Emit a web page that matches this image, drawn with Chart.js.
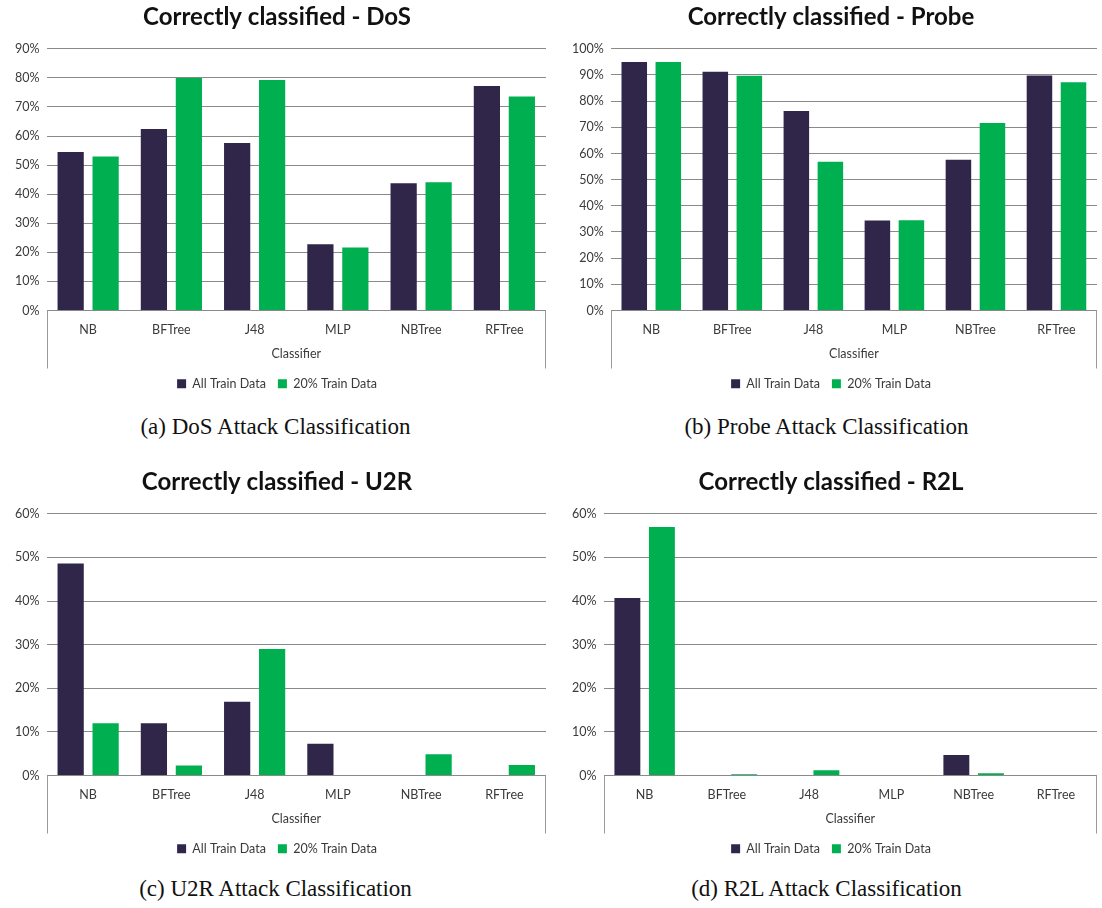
<!DOCTYPE html>
<html>
<head>
<meta charset="utf-8">
<script src="https://cdn.jsdelivr.net/npm/chart.js@4.4.1/dist/chart.umd.min.js"></script>
<style>
  body { margin: 0; background: #fff; width: 1102px; height: 908px; position: relative; overflow: hidden; }
  .panel { position: absolute; width: 551px; height: 400px; }
  .cap { position: absolute; width: 551px; text-align: center; font-family: "Liberation Serif", serif; font-size: 23px; color: #111; }
</style>
</head>
<body>
<div class="panel" style="left:0;top:0"><canvas id="dosChart" width="551" height="400"></canvas></div>
<div class="panel" style="left:551px;top:0"><canvas id="probeChart" width="551" height="400"></canvas></div>
<div class="panel" style="left:0;top:465px"><canvas id="u2rChart" width="551" height="400"></canvas></div>
<div class="panel" style="left:551px;top:465px"><canvas id="r2lChart" width="551" height="400"></canvas></div>
<div class="cap" style="left:0;top:414px">(a) DoS Attack Classification</div>
<div class="cap" style="left:551px;top:414px">(b) Probe Attack Classification</div>
<div class="cap" style="left:0;top:876px">(c) U2R Attack Classification</div>
<div class="cap" style="left:551px;top:876px">(d) R2L Attack Classification</div>
<script>
// 분류기 이름 (X축)
const classifiers = ['NB', 'BFTree', 'J48', 'MLP', 'NBTree', 'RFTree'];
const seriesNames = ['All Train Data', '20% Train Data'];

// 정확히 분류된 비율 (%)
const dosAll = [54.5, 62.4, 57.6, 22.8, 43.8, 77.2];
const dosPart = [53.0, 80.0, 79.3, 21.7, 44.1, 73.6];
const probeAll = [95.0, 91.2, 76.2, 34.4, 57.6, 89.8];
const probePart = [95.0, 89.7, 56.8, 34.5, 71.6, 87.2];
const u2rAll = [48.6, 12.0, 16.9, 7.3, 0, 0];
const u2rPart = [12.0, 2.3, 29.0, 0, 4.9, 2.4];
const r2lAll = [40.7, 0, 0, 0, 4.7, 0];
const r2lPart = [57.0, 0.3, 1.2, 0, 0.5, 0];

// Y축 최대값 / 눈금 간격
const yMax = { dos: 90, probe: 100, u2r: 60, r2l: 60 };
const yStep = { dos: 10, probe: 10, u2r: 10, r2l: 10 };

const allColor = '#30264a';
const partColor = '#00b050';
const textColor = '#3a3a3a';

// 엑셀 스타일 카테고리 박스 (좌우 세로선)
const categoryBox = {
    id: 'categoryBox',
    afterDraw(chart) {
        const a = chart.chartArea;
        const ctx = chart.ctx;
        ctx.save();
        ctx.strokeStyle = '#9a9a9a';
        ctx.lineWidth = 1;
        ctx.beginPath();
        ctx.moveTo(Math.round(a.left) + 0.5, a.bottom);
        ctx.lineTo(Math.round(a.left) + 0.5, a.bottom + 58);
        ctx.moveTo(Math.round(a.right) - 0.5, a.bottom);
        ctx.lineTo(Math.round(a.right) - 0.5, a.bottom + 58);
        ctx.stroke();
        ctx.restore();
    }
};

function renderBarChart(id, title, allData, partData, max, step, leftPad) {
    const ctx = document.getElementById(id).getContext('2d');
    new Chart(ctx, {
        type: 'bar',
        data: {
            labels: classifiers,
            datasets: [
                { label: seriesNames[0], data: allData, backgroundColor: allColor },
                { label: seriesNames[1], data: partData, backgroundColor: partColor }
            ]
        },
        options: {
            responsive: false,
            animation: false,
            layout: { padding: { top: 3, right: 5, left: leftPad, bottom: 0 } },
            datasets: { bar: { categoryPercentage: 0.84, barPercentage: 0.75 } },
            plugins: {
                title: {
                    display: true,
                    text: title,
                    color: '#111',
                    font: { family: 'Lato', size: 24, weight: 'bold' },
                    padding: { top: 0, bottom: 17 }
                },
                legend: {
                    position: 'bottom',
                    labels: {
                        boxWidth: 9,
                        boxHeight: 9,
                        color: textColor,
                        font: { family: 'Lato', size: 12.5 },
                        padding: 12
                    }
                },
                tooltip: { enabled: false }
            },
            scales: {
                x: {
                    grid: { display: false },
                    border: { display: false },
                    ticks: { color: textColor, font: { family: 'Lato', size: 12.5 }, padding: 4 },
                    title: {
                        display: true,
                        text: 'Classifier',
                        color: textColor,
                        font: { family: 'Lato', size: 12.5 },
                        padding: { top: 5, bottom: 4 }
                    }
                },
                y: {
                    min: 0,
                    max: max,
                    ticks: {
                        stepSize: step,
                        color: textColor,
                        font: { family: 'Lato', size: 12.5 },
                        padding: 7,
                        callback: v => v + '%'
                    },
                    grid: { color: '#8a8a8a', drawTicks: false },
                    border: { display: false }
                }
            }
        },
        plugins: [categoryBox]
    });
}

renderBarChart('dosChart', 'Correctly classified - DoS', dosAll, dosPart, yMax.dos, yStep.dos, 8);
renderBarChart('probeChart', 'Correctly classified - Probe', probeAll, probePart, yMax.probe, yStep.probe, 14);
renderBarChart('u2rChart', 'Correctly classified - U2R', u2rAll, u2rPart, yMax.u2r, yStep.u2r, 8);
renderBarChart('r2lChart', 'Correctly classified - R2L', r2lAll, r2lPart, yMax.r2l, yStep.r2l, 14);
</script>
</body>
</html>
